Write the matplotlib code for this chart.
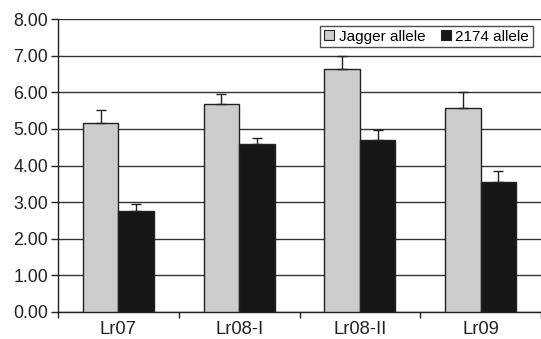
import matplotlib
matplotlib.use("Agg")
import matplotlib.pyplot as plt
import numpy as np
from matplotlib.patches import Patch

categories = ["Lr07", "Lr08-I", "Lr08-II", "Lr09"]
jagger = [5.16, 5.69, 6.63, 5.58]
jagger_err = [0.37, 0.26, 0.37, 0.44]
a2174 = [2.75, 4.58, 4.71, 3.56]
a2174_err = [0.20, 0.17, 0.27, 0.30]
yticks = [0, 1, 2, 3, 4, 5, 6, 7, 8]

plt.rcParams['font.family'] = ['Liberation Sans', 'DejaVu Sans']

fig = plt.figure(figsize=(5.41, 3.39), dpi=100)
ax = fig.add_axes([58/541, 1-311.7/339, 1-58/541, (311.7-19.3)/339])

x = np.arange(len(categories))
w = 0.295
ax.bar(x - w/2, jagger, w, color='#cccccc', edgecolor='#222222', linewidth=1.0,
       yerr=[np.zeros(4), jagger_err], error_kw=dict(ecolor='#222222', elinewidth=1.0, capsize=3.5, capthick=1.0),
       zorder=3, label='Jagger allele')
ax.bar(x + w/2, a2174, w, color='#161616', edgecolor='#222222', linewidth=1.0,
       yerr=[np.zeros(4), a2174_err], error_kw=dict(ecolor='#222222', elinewidth=1.0, capsize=3.5, capthick=1.0),
       zorder=3, label='2174 allele')

ax.set_xlim(-0.5, len(categories) - 0.5)
ax.set_ylim(0, 8)
ax.set_yticks(yticks)
ax.set_yticklabels([f"{v:.2f}" for v in yticks], fontsize=12.8, color='#222222')
ax.yaxis.grid(True, color='#333333', linewidth=1.0, zorder=0)
ax.set_axisbelow(True)

ax.set_xticks(x)
ax.set_xticklabels(categories, fontsize=13.2, color='#222222')
ax.tick_params(axis='x', length=0, pad=7)
ax.set_xticks(np.arange(-0.5, len(categories) - 0.5 + 0.01, 1.0), minor=True)
ax.tick_params(axis='x', which='minor', length=4, width=1, color='#222222', direction='out')
ax.tick_params(axis='y', length=5, width=1, color='#222222', direction='out', pad=2)

for s in ['top', 'right']:
    ax.spines[s].set_visible(False)
for s in ['left', 'bottom']:
    ax.spines[s].set_color('#222222')
    ax.spines[s].set_linewidth(1.0)

handles = [Patch(facecolor='#cccccc', edgecolor='#222222', linewidth=0.8),
           Patch(facecolor='#161616', edgecolor='#222222', linewidth=0.8)]
leg = ax.legend(handles, ['Jagger allele', '2174 allele'], loc='upper right',
                ncol=2, fontsize=11, frameon=True, fancybox=False,
                handlelength=0.65, handleheight=0.65, handletextpad=0.3, columnspacing=1.0,
                borderpad=0.25, borderaxespad=0.0)
leg.get_frame().set_edgecolor('#222222')
leg.get_frame().set_linewidth(1.0)
leg.set_bbox_to_anchor((532.7/541, 1-25.7/339), transform=fig.transFigure)

fig.savefig("out.png", dpi=100)
